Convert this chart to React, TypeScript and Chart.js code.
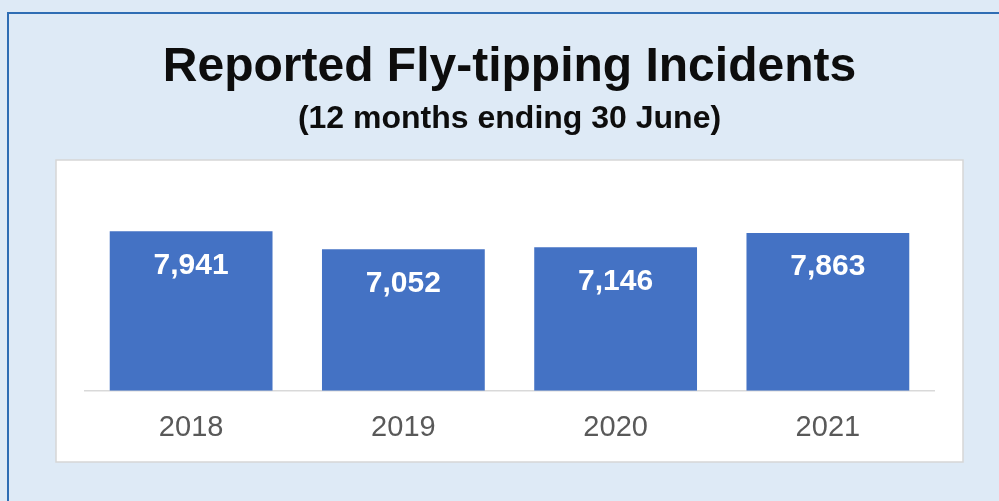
import React, { useEffect, useRef } from "react";
import { Chart, registerables } from "chart.js";

Chart.register(...registerables);

const TITLE = "Reported Fly-tipping Incidents";
const SUBTITLE = "(12 months ending 30 June)";
const CATEGORIES = ["2018", "2019", "2020", "2021"];
const INCIDENTS = [7941, 7052, 7146, 7863];

const FONT = "'Liberation Sans', Arial, Helvetica, sans-serif";
const BAR_COLOR = "#4472C4";
const PAGE_BG = "#DEEAF6";

const backgroundPlugin = {
  id: "panelBackground",
  beforeDraw(chart: any) {
    const ctx = chart.ctx;
    ctx.save();
    ctx.fillStyle = PAGE_BG;
    ctx.fillRect(0, 0, chart.width, chart.height);
    // outer blue frame (extends beyond right/bottom edges)
    ctx.strokeStyle = "#2E6DB4";
    ctx.lineWidth = 2;
    ctx.strokeRect(8, 13, chart.width + 20, chart.height + 20);
    // white plot panel
    ctx.fillStyle = "#FFFFFF";
    ctx.fillRect(56, 160, 907, 302);
    ctx.strokeStyle = "#D6D6D6";
    ctx.lineWidth = 1.5;
    ctx.strokeRect(56, 160, 907, 302);
    ctx.restore();
  },
};

const valueLabelPlugin = {
  id: "valueLabels",
  afterDatasetsDraw(chart: any) {
    const ctx = chart.ctx;
    const meta = chart.getDatasetMeta(0);
    const data = chart.data.datasets[0].data as number[];
    ctx.save();
    ctx.fillStyle = "#FFFFFF";
    ctx.font = `bold 30px ${FONT}`;
    ctx.textAlign = "center";
    ctx.textBaseline = "alphabetic";
    meta.data.forEach((bar: any, i: number) => {
      ctx.fillText(data[i].toLocaleString("en-GB"), bar.x, bar.y + 42.5);
    });
    ctx.restore();
  },
};

export default function App() {
  const canvasRef = useRef<HTMLCanvasElement | null>(null);

  useEffect(() => {
    if (!canvasRef.current) return;
    const chart = new Chart(canvasRef.current, {
      type: "bar",
      data: {
        labels: CATEGORIES,
        datasets: [
          {
            label: "Incidents",
            data: INCIDENTS,
            backgroundColor: BAR_COLOR,
            borderWidth: 0,
            barPercentage: 0.767,
            categoryPercentage: 1,
          },
        ],
      },
      options: {
        responsive: false,
        animation: false,
        devicePixelRatio: 1,
        layout: { padding: { left: 85, right: 65, top: 0, bottom: 35.5 } },
        plugins: {
          legend: { display: false },
          tooltip: { enabled: false },
          title: {
            display: true,
            text: TITLE,
            color: "#0D0D0D",
            font: { family: FONT, size: 48, weight: "bold", lineHeight: 1.2 },
            padding: { top: 38.5, bottom: 0 },
          },
          subtitle: {
            display: true,
            text: SUBTITLE,
            color: "#0D0D0D",
            font: { family: FONT, size: 32, weight: "bold", lineHeight: 1.2 },
            padding: { top: 3.5, bottom: 52 },
          },
        },
        scales: {
          x: {
            grid: { display: false, drawTicks: false },
            border: { display: true, color: "#D9D9D9", width: 1.5 },
            ticks: {
              color: "#595959",
              font: { family: FONT, size: 29 },
              padding: 20,
            },
          },
          y: {
            display: false,
            min: 0,
            max: 10000,
          },
        },
      },
      plugins: [backgroundPlugin, valueLabelPlugin],
    });
    return () => chart.destroy();
  }, []);

  return (
    <div style={{ position: "fixed", left: 0, top: 0, width: 999, height: 501 }}>
      <canvas ref={canvasRef} width={999} height={501} style={{ display: "block" }} />
    </div>
  );
}
